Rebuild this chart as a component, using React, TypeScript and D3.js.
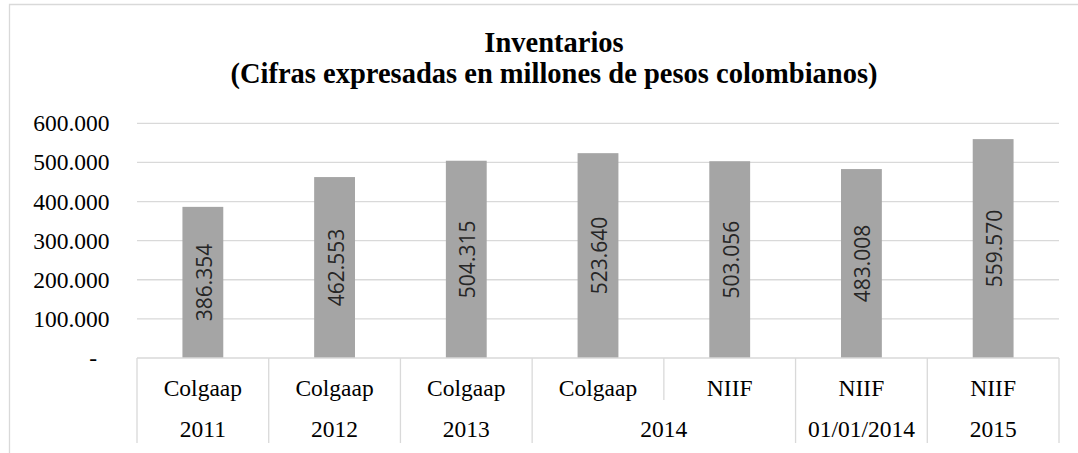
import React, { useEffect, useRef } from "react";
import * as d3 from "d3";

const normas = ["Colgaap", "Colgaap", "Colgaap", "Colgaap", "NIIF", "NIIF", "NIIF"];
const periodos = ["2011", "2012", "2013", "2014", "2014", "01/01/2014", "2015"];
const inventarios = [386354, 462553, 504315, 523640, 503056, 483008, 559570];
const yTicks = [0, 100000, 200000, 300000, 400000, 500000, 600000];

const titleLines = ["Inventarios", "(Cifras expresadas en millones de pesos colombianos)"];

const WIDTH = 1078;
const HEIGHT = 453;

function App(): JSX.Element {
  const chartRef = useRef<SVGSVGElement>(null);

  useEffect(() => {
    if (!chartRef.current) return;
    const svg = d3.select(chartRef.current);
    svg.selectAll("*").remove();

    const serif = "'Liberation Serif', 'Times New Roman', serif";
    const gridColor = "#d9d9d9";

    const locale = d3.formatLocale({
      decimal: ",",
      thousands: ".",
      grouping: [3],
      currency: ["$", ""],
    });
    const fmt = locale.format(",d");

    const left = 137;
    const right = 1059;
    const zeroY = 358;
    const topY = 123.3;

    const keys = inventarios.map((_, i) => i);
    const x = d3.scaleBand<number>().domain(keys).range([left, right]).padding(0);
    const y = d3.scaleLinear().domain([0, 600000]).range([zeroY, topY]);
    const barWidth = x.bandwidth() * 0.31;

    // outer frame (cut off at right and bottom)
    svg
      .append("path")
      .attr("d", `M9.5,${HEIGHT + 5}V4.5H${WIDTH + 5}`)
      .attr("fill", "none")
      .attr("stroke", gridColor)
      .attr("stroke-width", 1.3);

    // title
    const title = svg
      .append("text")
      .attr("x", 554)
      .attr("text-anchor", "middle")
      .style("font-family", serif)
      .style("font-weight", "bold")
      .style("font-size", "28.5px")
      .attr("fill", "#000");
    titleLines.forEach((line, i) => {
      title
        .append("tspan")
        .attr("x", 554)
        .attr("y", 52 + i * 31)
        .text(line);
    });

    // gridlines
    svg
      .append("g")
      .selectAll("line")
      .data(yTicks.filter((t) => t > 0))
      .enter()
      .append("line")
      .attr("x1", left)
      .attr("x2", right)
      .attr("y1", (d) => y(d))
      .attr("y2", (d) => y(d))
      .attr("stroke", gridColor)
      .attr("stroke-width", 1.3);

    // y tick labels
    svg
      .append("g")
      .selectAll("text")
      .data(yTicks)
      .enter()
      .append("text")
      .attr("x", (d) => (d === 0 ? 97 : 109.5))
      .attr("y", (d) => y(d) + 8)
      .attr("text-anchor", "end")
      .style("font-family", serif)
      .style("font-size", "23.5px")
      .attr("fill", "#000")
      .text((d) => (d === 0 ? "-" : fmt(d)));

    // bars
    svg
      .append("g")
      .selectAll("rect")
      .data(inventarios)
      .enter()
      .append("rect")
      .attr("x", (_, i) => x(i)! + (x.bandwidth() - barWidth) / 2)
      .attr("y", (d) => y(d))
      .attr("width", barWidth)
      .attr("height", (d) => zeroY - y(d))
      .attr("fill", "#a5a5a5");

    // bar value labels
    svg
      .append("g")
      .selectAll("text")
      .data(inventarios)
      .enter()
      .append("text")
      .attr("transform", (d, i) => {
        const cx = x(i)! + x.bandwidth() / 2 + 1;
        const cy = (y(d) + zeroY) / 2;
        return `translate(${cx},${cy}) rotate(-90)`;
      })
      .attr("text-anchor", "middle")
      .attr("dominant-baseline", "central")
      .style("font-family", "'Open Sans', 'Noto Sans', sans-serif")
      .style("font-size", "21px")
      .attr("fill", "#262626")
      .text((d) => fmt(d));

    // category axis
    const axis = svg.append("g");
    axis
      .append("line")
      .attr("x1", left)
      .attr("x2", right)
      .attr("y1", zeroY)
      .attr("y2", zeroY)
      .attr("stroke", gridColor)
      .attr("stroke-width", 1.3);

    const edges = [...keys.map((i) => x(i)!), right];
    edges.forEach((ex, i) => {
      // inner boundary inside the same period only spans the first row
      const samePeriod = i > 0 && i < periodos.length && periodos[i] === periodos[i - 1];
      axis
        .append("line")
        .attr("x1", ex)
        .attr("x2", ex)
        .attr("y1", zeroY)
        .attr("y2", samePeriod ? 400 : 443)
        .attr("stroke", gridColor)
        .attr("stroke-width", 1.3);
    });

    axis
      .selectAll(".norma")
      .data(normas)
      .enter()
      .append("text")
      .attr("class", "norma")
      .attr("x", (_, i) => x(i)! + x.bandwidth() / 2)
      .attr("y", 396)
      .attr("text-anchor", "middle")
      .style("font-family", serif)
      .style("font-size", "23.5px")
      .attr("fill", "#000")
      .text((d) => d);

    // group consecutive equal periods
    const groups: { label: string; start: number; end: number }[] = [];
    periodos.forEach((p, i) => {
      const last = groups[groups.length - 1];
      if (last && last.label === p) last.end = i;
      else groups.push({ label: p, start: i, end: i });
    });

    axis
      .selectAll(".periodo")
      .data(groups)
      .enter()
      .append("text")
      .attr("class", "periodo")
      .attr("x", (g) => (x(g.start)! + x(g.end)! + x.bandwidth()) / 2)
      .attr("y", 437)
      .attr("text-anchor", "middle")
      .style("font-family", serif)
      .style("font-size", "23.5px")
      .attr("fill", "#000")
      .text((g) => g.label);
  }, []);

  return (
    <svg
      ref={chartRef}
      width={WIDTH}
      height={HEIGHT}
      style={{ position: "absolute", left: 0, top: 0, background: "#fff" }}
    ></svg>
  );
}

export default App;
